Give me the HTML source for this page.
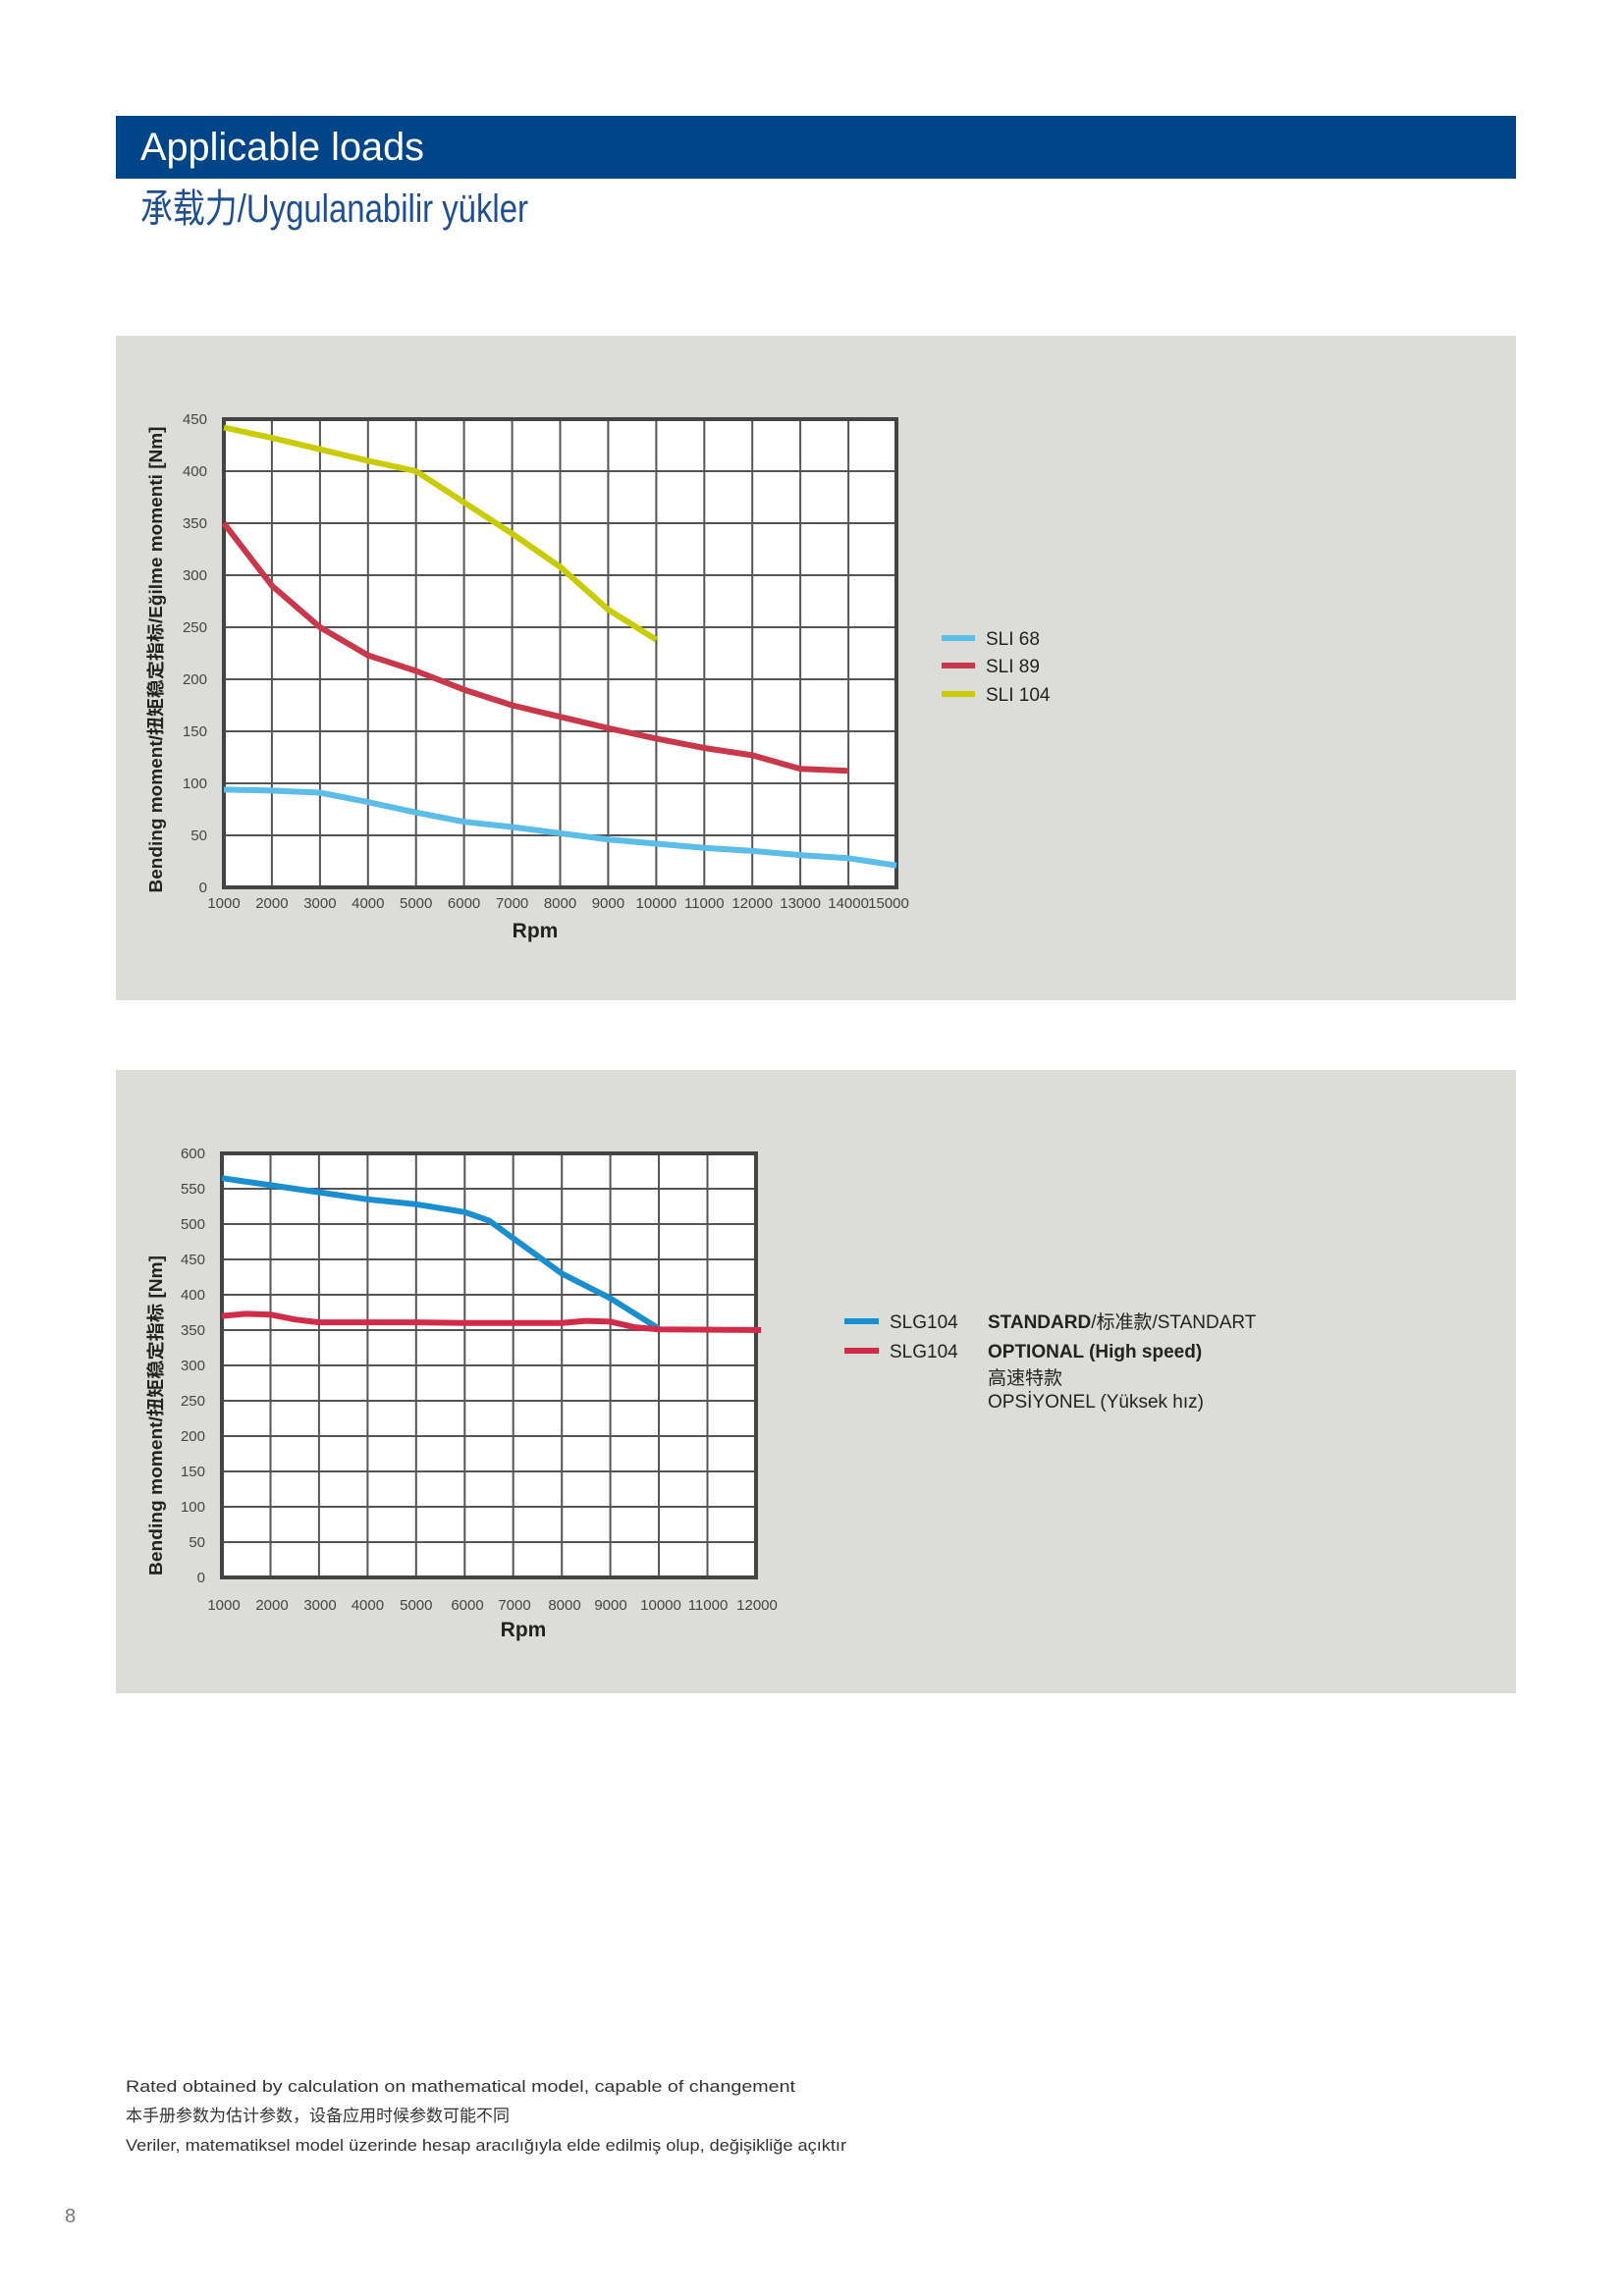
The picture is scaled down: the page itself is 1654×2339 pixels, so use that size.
<!DOCTYPE html>
<html><head><meta charset="utf-8"><style>
html,body{margin:0;padding:0;background:#fff}
svg{display:block}
text{font-family:"Liberation Sans Narrow","Liberation Sans","Noto Sans CJK SC",sans-serif}
</style></head><body>
<svg width="1654" height="2339" viewBox="0 0 1654 2339" xmlns="http://www.w3.org/2000/svg">
<rect width="1654" height="2339" fill="#fff"/>
<rect x="118" y="118" width="1426" height="64" fill="#004588"/>
<text x="143" y="163" font-size="40" fill="#fff" textLength="289" lengthAdjust="spacingAndGlyphs">Applicable loads</text>
<text x="143" y="226" font-size="40" fill="#1f4f8f" textLength="395" lengthAdjust="spacingAndGlyphs">承载力/Uygulanabilir yükler</text>

<rect x="118" y="342" width="1426" height="677" fill="#dcdcd9"/>
<rect x="228" y="427" width="685" height="477" fill="#fff"/>
<path d="M276.9 427V904M325.9 427V904M374.8 427V904M423.7 427V904M472.6 427V904M521.6 427V904M570.5 427V904M619.4 427V904M668.4 427V904M717.3 427V904M766.2 427V904M815.1 427V904M864.1 427V904M228 851H913M228 798H913M228 745H913M228 692H913M228 639H913M228 586H913M228 533H913M228 480H913" stroke="#555" stroke-width="2" fill="none"/>
<rect x="228" y="427" width="685" height="477" fill="none" stroke="#444" stroke-width="4"/>
<g font-size="15" fill="#444" text-anchor="end">
<text x="211" y="909">0</text><text x="211" y="856">50</text><text x="211" y="803">100</text><text x="211" y="750">150</text><text x="211" y="697">200</text><text x="211" y="644">250</text><text x="211" y="591">300</text><text x="211" y="538">350</text><text x="211" y="485">400</text><text x="211" y="432">450</text>
</g>
<g font-size="15" fill="#444" text-anchor="middle">
<text x="228" y="925">1000</text><text x="276.9" y="925">2000</text><text x="325.9" y="925">3000</text><text x="374.8" y="925">4000</text><text x="423.7" y="925">5000</text><text x="472.6" y="925">6000</text><text x="521.6" y="925">7000</text><text x="570.5" y="925">8000</text><text x="619.4" y="925">9000</text><text x="668.4" y="925">10000</text><text x="717.3" y="925">11000</text><text x="766.2" y="925">12000</text><text x="815.1" y="925">13000</text><text x="864.1" y="925">14000</text><text x="905" y="925">15000</text>
</g>
<text x="545" y="955" font-size="21" font-weight="bold" fill="#222" text-anchor="middle">Rpm</text>
<text transform="translate(165 672) rotate(-90)" font-size="18" font-weight="bold" fill="#222" text-anchor="middle" textLength="475" lengthAdjust="spacingAndGlyphs" style="font-family:'Liberation Sans','Noto Sans CJK SC',sans-serif">Bending moment/扭矩稳定指标/Eğilme momenti [Nm]</text>
<g fill="none" stroke-width="6" stroke-linejoin="round" stroke-linecap="butt">
<polyline stroke="#5bbde8" points="228,804.4 276.9,805.4 325.9,807.5 374.8,817.1 423.7,827.7 472.6,837.2 521.6,842.5 570.5,848.9 619.4,855.2 668.4,859.5 717.3,863.7 766.2,866.9 815.1,871.1 864.1,874.3 913,881.7"/>
<polyline stroke="#c8384a" points="228,533 276.9,596.6 325.9,639 374.8,667.6 423.7,683.5 472.6,702.6 521.6,718.5 570.5,730.2 619.4,741.8 668.4,752.4 717.3,762 766.2,769.4 815.1,783.2 864.1,785.3"/>
<polyline stroke="#c8cc00" points="228,435.5 276.9,446.1 325.9,457.7 374.8,469.4 423.7,480 472.6,511.8 521.6,543.6 570.5,577.5 619.4,621 668.4,651.7"/>
</g>
<rect x="959" y="647" width="34" height="6" fill="#5bbde8"/>
<rect x="959" y="675" width="34" height="6" fill="#c8384a"/>
<rect x="959" y="704" width="34" height="6" fill="#c8cc00"/>
<g font-size="19" fill="#222"><text x="1004" y="657">SLI 68</text><text x="1004" y="685">SLI 89</text><text x="1004" y="714">SLI 104</text></g>

<rect x="118" y="1090" width="1426" height="635" fill="#dcdcd9"/>
<rect x="226" y="1175" width="544" height="432" fill="#fff"/>
<path d="M275.5 1175V1607M324.9 1175V1607M374.4 1175V1607M423.8 1175V1607M473.3 1175V1607M522.7 1175V1607M572.2 1175V1607M621.6 1175V1607M671 1175V1607M720.5 1175V1607M226 1571H770M226 1535H770M226 1499H770M226 1463H770M226 1427H770M226 1391H770M226 1355H770M226 1319H770M226 1283H770M226 1247H770M226 1211H770" stroke="#555" stroke-width="2" fill="none"/>
<rect x="226" y="1175" width="544" height="432" fill="none" stroke="#444" stroke-width="4"/>
<g font-size="15" fill="#444" text-anchor="end">
<text x="209" y="1612">0</text><text x="209" y="1576">50</text><text x="209" y="1540">100</text><text x="209" y="1504">150</text><text x="209" y="1468">200</text><text x="209" y="1432">250</text><text x="209" y="1396">300</text><text x="209" y="1360">350</text><text x="209" y="1324">400</text><text x="209" y="1288">450</text><text x="209" y="1252">500</text><text x="209" y="1216">550</text><text x="209" y="1180">600</text>
</g>
<g font-size="15" fill="#444" text-anchor="middle">
<text x="228" y="1640">1000</text><text x="277" y="1640">2000</text><text x="326" y="1640">3000</text><text x="374.4" y="1640">4000</text><text x="423.8" y="1640">5000</text><text x="476" y="1640">6000</text><text x="524" y="1640">7000</text><text x="575" y="1640">8000</text><text x="622" y="1640">9000</text><text x="673" y="1640">10000</text><text x="721" y="1640">11000</text><text x="771" y="1640">12000</text>
</g>
<text x="533" y="1667" font-size="21" font-weight="bold" fill="#222" text-anchor="middle">Rpm</text>
<text transform="translate(165 1442) rotate(-90)" font-size="18" font-weight="bold" fill="#222" text-anchor="middle" textLength="326" lengthAdjust="spacingAndGlyphs" style="font-family:'Liberation Sans','Noto Sans CJK SC',sans-serif">Bending moment/扭矩稳定指标 [Nm]</text>
<g fill="none" stroke-width="6" stroke-linejoin="round">
<polyline stroke="#1a8fcf" points="226,1200.2 275.5,1207.4 324.9,1214.6 374.4,1221.8 423.8,1226.8 473.3,1234.8 498,1243.4 522.7,1261.4 572.2,1297.4 621.6,1322.6 671,1353.6"/>
<polyline stroke="#d02c4a" points="226,1340.6 250.7,1338.4 275.5,1339.2 300.2,1344.2 324.9,1347.1 374.4,1347.1 423.8,1347.1 473.3,1347.8 522.7,1347.8 572.2,1347.8 596.9,1345.6 621.6,1346.4 646.3,1352.1 671,1354.3 775,1355"/>
</g>
<rect x="860" y="1343" width="35" height="6" fill="#1a8fcf"/>
<rect x="860" y="1373" width="35" height="6" fill="#d02c4a"/>
<g font-size="19" fill="#222" style="font-family:'Liberation Sans Narrow','Liberation Sans','Noto Sans CJK SC',sans-serif">
<text x="906" y="1353">SLG104</text><text x="906" y="1383">SLG104</text>
<text x="1006" y="1353"><tspan font-weight="bold">STANDARD</tspan>/标准款/STANDART</text>
<text x="1006" y="1383" font-weight="bold">OPTIONAL (High speed)</text>
<text x="1006" y="1410">高速特款</text>
<text x="1006" y="1434">OPSİYONEL (Yüksek hız)</text>
</g>

<g font-size="17" fill="#333" style="font-family:'Liberation Sans','Noto Sans CJK SC',sans-serif">
<text x="128" y="2131" textLength="682" lengthAdjust="spacingAndGlyphs">Rated obtained by calculation on mathematical model, capable of changement</text>
<text x="128" y="2161">本手册参数为估计参数，设备应用时候参数可能不同</text>
<text x="128" y="2191" textLength="734" lengthAdjust="spacingAndGlyphs">Veriler, matematiksel model üzerinde hesap aracılığıyla elde edilmiş olup, değişikliğe açıktır</text>
</g>
<text x="66" y="2264" font-size="20" fill="#777">8</text>
</svg>
</body></html>
